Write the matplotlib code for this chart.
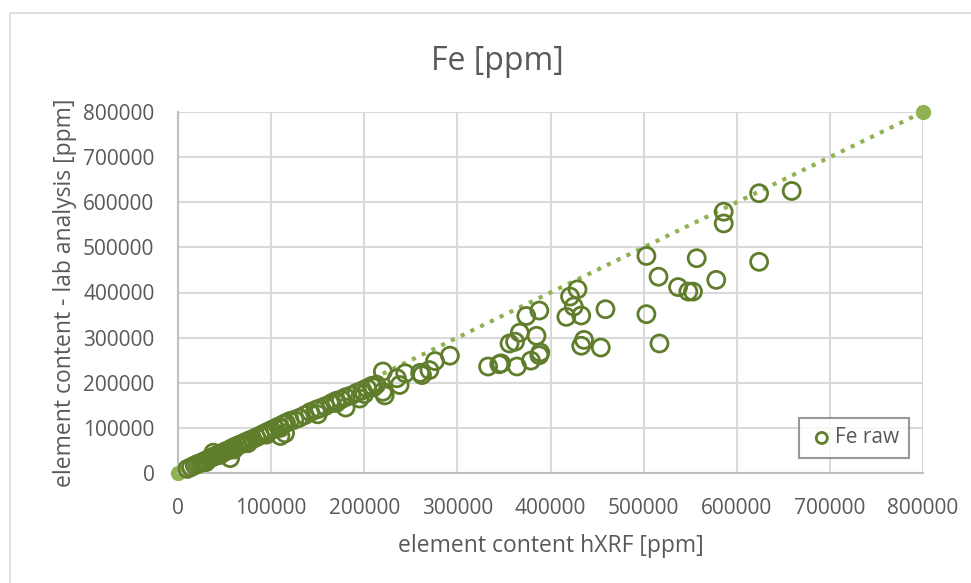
import matplotlib.pyplot as plt
from matplotlib.patches import Rectangle

plt.rcParams['font.family'] = ['Open Sans', 'DejaVu Sans']

# hXRF vs lab analysis, Fe [ppm]
hxrf = [10000, 14000, 18000, 21000, 24000, 27000, 30000, 33000, 36000, 38000,
        41000, 44000, 47000, 50000, 53000, 56000, 58000, 61000, 64000, 67000,
        70000, 73000, 76000, 80000, 84000, 88000, 92000, 96000, 100000, 104000,
        108000, 110000, 113000, 116000, 120000, 125000, 130000, 136000, 142000, 148000,
        152000, 158000, 165000, 170000, 175000, 180000, 186000, 192000, 198000, 203000,
        208000, 213000, 220000, 220000, 222000, 235000, 238000, 244000, 260000, 262000,
        270000, 276000, 292000, 333000, 345000, 347000, 356000, 362000, 364000, 367000,
        374000, 379000, 385000, 388000, 389000, 388000, 417000, 421000, 425000, 429000,
        433000, 436000, 433000, 454000, 459000, 503000, 503000, 516000, 517000, 537000,
        548000, 553000, 557000, 578000, 586000, 586000, 624000, 624000, 659000,
        38000, 56000, 110000, 115000, 30000, 60000, 75000, 150000, 180000, 195000,
        200000, 210000, 170000, 95000, 45000]
lab = [9000, 13000, 17000, 20000, 22000, 25000, 28000, 31000, 34000, 36000,
       39000, 41000, 44000, 47000, 50000, 52000, 55000, 58000, 61000, 63000,
       66000, 69000, 72000, 75000, 79000, 83000, 87000, 91000, 95000, 99000,
       103000, 100000, 108000, 111000, 115000, 118000, 122000, 128000, 135000, 140000,
       143000, 148000, 155000, 160000, 163000, 168000, 172000, 178000, 183000, 188000,
       193000, 196000, 225000, 180000, 172000, 210000, 195000, 221000, 222000, 217000,
       228000, 248000, 260000, 236000, 241000, 243000, 287000, 291000, 236000, 311000,
       348000, 249000, 304000, 360000, 267000, 261000, 346000, 391000, 369000, 407000,
       349000, 295000, 282000, 278000, 363000, 481000, 352000, 435000, 287000, 412000,
       402000, 402000, 476000, 428000, 579000, 553000, 620000, 468000, 625000,
       45000, 33000, 82000, 88000, 24000, 52000, 66000, 130000, 145000, 165000,
       175000, 190000, 155000, 85000, 40000]
ref_x = [0, 800000]
ref_y = [0, 800000]

xticks = [0, 100000, 200000, 300000, 400000, 500000, 600000, 700000, 800000]
yticks = [0, 100000, 200000, 300000, 400000, 500000, 600000, 700000, 800000]

dark = '#5f7d2b'
light = '#8fb352'
grid_c = '#d9d9d9'
text_c = '#595959'

fig = plt.figure(figsize=(9.71, 5.83), dpi=100)
ax = fig.add_axes([178 / 971, 1 - 473 / 583, 745 / 971, 361 / 583])

# outer chart border (runs off the right and bottom of the picture)
fig.patches.append(Rectangle((10 / 971, -0.05), 1.0, 1 - 13 / 583 + 0.05,
                             transform=fig.transFigure, fill=False,
                             edgecolor='#d9d9d9', linewidth=1.2))

ax.plot(ref_x, ref_y, linestyle=(0, (1, 1.6)), color=light, linewidth=3,
        marker='o', markersize=10, zorder=2, clip_on=False)
ax.scatter(hxrf, lab, s=150, facecolors='none', edgecolors=dark,
           linewidths=2.0, zorder=3, label='Fe raw', clip_on=False)

ax.set_xlim(0, 800000)
ax.set_ylim(0, 800000)
ax.set_xticks(xticks)
ax.set_yticks(yticks)
ax.set_xticklabels([str(t) for t in xticks])
ax.set_yticklabels([str(t) for t in yticks])
ax.tick_params(length=0, labelsize=15, colors=text_c)
ax.tick_params(axis='x', pad=18)
ax.tick_params(axis='y', pad=17)
ax.grid(True, color=grid_c, linewidth=1.5)
ax.set_axisbelow(True)
for s in ['top', 'right']:
    ax.spines[s].set_visible(False)
for s in ['left', 'bottom']:
    ax.spines[s].set_color('#bfbfbf')
    ax.spines[s].set_linewidth(1.5)

# title is centred on the whole chart area, not on the plot
fig.text(497 / 971, 1 - 62 / 583, 'Fe [ppm]', fontsize=23, color=text_c,
         ha='center', va='center')
ax.set_xlabel('element content hXRF [ppm]', fontsize=16.5, color=text_c, labelpad=11)
ax.set_ylabel('element content - lab analysis [ppm]', fontsize=16.5, color=text_c, labelpad=4)

leg = ax.legend(loc='lower right', bbox_to_anchor=(0.981, 0.042), fontsize=15,
                frameon=True, fancybox=False, handletextpad=0.0, handlelength=1.3,
                borderpad=0.45, borderaxespad=0, markerscale=0.65)
leg.get_frame().set_edgecolor('#7f7f7f')
leg.get_frame().set_linewidth(1.5)
for t in leg.get_texts():
    t.set_color(text_c)

fig.savefig('out.png', dpi=100)
